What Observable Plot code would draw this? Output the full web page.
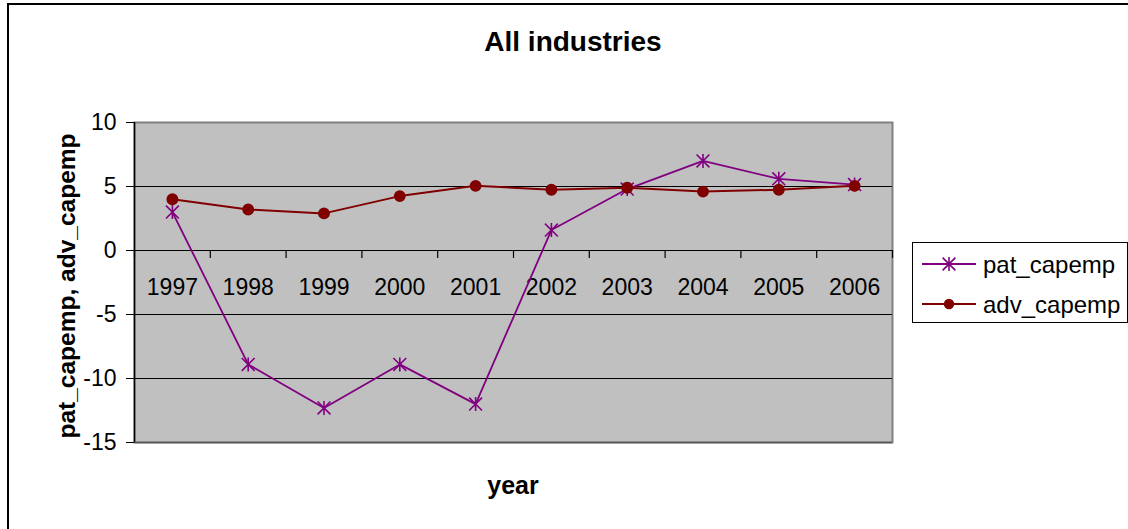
<!DOCTYPE html>
<html>
<head>
<meta charset="utf-8">
<script src="https://cdn.jsdelivr.net/npm/d3@7"></script>
<script src="https://cdn.jsdelivr.net/npm/@observablehq/plot@0.6"></script>
<style>
  html, body { margin: 0; padding: 0; background: #fff; }
  #wrap { position: relative; width: 1128px; height: 529px; overflow: hidden; font-family: "Liberation Sans", Arial, sans-serif; }
  #border { position: absolute; left: 7px; top: 3px; width: 2000px; height: 2000px; border-left: 2px solid #000; border-top: 2px solid #000; }
  #chart { position: absolute; left: 0; top: 0; }
  .t { position: absolute; font-weight: bold; color: #000; white-space: nowrap; }
  #title { left: 0; width: 1146px; top: 28px; text-align: center; font-size: 28px; line-height: 28px; }
  #xtitle { left: 0; width: 1026px; top: 473px; text-align: center; font-size: 25px; line-height: 25px; }
  #ytitle { left: 66px; top: 286px; font-size: 24.5px; line-height: 25px; transform: translate(-50%, -50%) rotate(-90deg); }
  #legend { position: absolute; left: 912px; top: 242px; width: 216px; height: 81px; box-sizing: border-box; border: 1px solid #000; background: #fff; }
</style>
</head>
<body>
<div id="wrap">
  <div id="border"></div>
  <div id="chart"></div>
  <div id="title" class="t">All industries</div>
  <div id="xtitle" class="t">year</div>
  <div id="ytitle" class="t">pat_capemp, adv_capemp</div>
  <div id="legend"></div>
</div>
<script>
const years = ["1997", "1998", "1999", "2000", "2001", "2002", "2003", "2004", "2005", "2006"];
const patCapemp = [3.0, -8.9, -12.3, -8.9, -12.0, 1.6, 4.8, 7.0, 5.6, 5.15];
const advCapemp = [4.0, 3.2, 2.9, 4.25, 5.05, 4.75, 4.9, 4.6, 4.75, 5.05];
const yTicks = [-15, -10, -5, 0, 5, 10];
const seriesNames = ["pat_capemp", "adv_capemp"];

const patColor = "#800080";
const advColor = "#800000";

const pat = years.map((y, i) => ({year: y, value: patCapemp[i]}));
const adv = years.map((y, i) => ({year: y, value: advCapemp[i]}));

// Excel-like star marker: X plus vertical bar
const star = {
  draw(context, size) {
    const r = Math.sqrt(size / Math.PI);
    const d = r * 0.92;
    context.moveTo(0, -r); context.lineTo(0, r);
    context.moveTo(-d, -d); context.lineTo(d, d);
    context.moveTo(-d, d); context.lineTo(d, -d);
  }
};

const W = 1128, H = 529, ML = 134, MR = 236, MT = 122, MB = 87;
const step = (W - ML - MR) / years.length;
const font = "Liberation Sans, Arial, sans-serif";

const chart = Plot.plot({
  width: W, height: H,
  marginLeft: ML, marginRight: MR, marginTop: MT, marginBottom: MB,
  style: {fontFamily: font, background: "transparent", overflow: "visible"},
  x: {type: "point", domain: years, padding: 0.5, round: false, axis: null},
  y: {domain: [-15, 10], axis: null},
  marks: [
    Plot.frame({fill: "#c0c0c0", stroke: "#808080", strokeWidth: 2}),
    Plot.ruleY(yTicks.filter(v => v > -15 && v < 10), {stroke: "#000", strokeWidth: 1}),
    Plot.ruleY([-15], {stroke: "#555", strokeWidth: 1.5}),
    // left axis line
    Plot.ruleX([years[0]], {y1: -15, y2: 10, dx: -step / 2, stroke: "#000", strokeWidth: 1.5}),
    // y ticks
    Plot.axisY({ticks: yTicks, tickSize: 8, tickPadding: 10, fontSize: 23, tickFormat: d => String(d), label: null, stroke: "#000"}),
    // category boundary ticks at y = 0
    Plot.ruleX(years, {x: d => d, y1: 0, y2: -0.62, dx: -step / 2, stroke: "#000", strokeWidth: 1.2}),
    Plot.ruleX([years[years.length - 1]], {y1: 0, y2: -0.62, dx: step / 2, stroke: "#000", strokeWidth: 1.2}),
    // x tick labels under the zero line
    Plot.text(years, {x: d => d, y: 0, dy: 37, text: d => d, fontSize: 23, fill: "#000", textAnchor: "middle", lineAnchor: "middle"}),
    // series
    Plot.line(pat, {x: "year", y: "value", stroke: patColor, strokeWidth: 1.8}),
    Plot.dot(pat, {x: "year", y: "value", symbol: star, r: 7, stroke: patColor, strokeWidth: 1.6, fill: "none"}),
    Plot.line(adv, {x: "year", y: "value", stroke: advColor, strokeWidth: 2}),
    Plot.dot(adv, {x: "year", y: "value", r: 5.2, fill: advColor, stroke: advColor})
  ]
});
document.getElementById("chart").appendChild(chart);

// Legend
const ns = "http://www.w3.org/2000/svg";
const lsvg = document.createElementNS(ns, "svg");
lsvg.setAttribute("width", 214); lsvg.setAttribute("height", 79);
lsvg.style.display = "block";
const legendItems = [
  {name: seriesNames[0], color: patColor, kind: "star", y: 21},
  {name: seriesNames[1], color: advColor, kind: "dot", y: 61}
];
for (const it of legendItems) {
  const line = document.createElementNS(ns, "line");
  line.setAttribute("x1", 9); line.setAttribute("x2", 63);
  line.setAttribute("y1", it.y); line.setAttribute("y2", it.y);
  line.setAttribute("stroke", it.color); line.setAttribute("stroke-width", 2);
  lsvg.appendChild(line);
  if (it.kind === "star") {
    const p = document.createElementNS(ns, "path");
    const cx = 36, cy = it.y, r = 7, d = 6.4;
    p.setAttribute("d", `M${cx},${cy - r}L${cx},${cy + r}M${cx - d},${cy - d}L${cx + d},${cy + d}M${cx - d},${cy + d}L${cx + d},${cy - d}`);
    p.setAttribute("stroke", it.color); p.setAttribute("stroke-width", 1.6); p.setAttribute("fill", "none");
    lsvg.appendChild(p);
  } else {
    const c = document.createElementNS(ns, "circle");
    c.setAttribute("cx", 36); c.setAttribute("cy", it.y); c.setAttribute("r", 5.2);
    c.setAttribute("fill", it.color);
    lsvg.appendChild(c);
  }
  const t = document.createElementNS(ns, "text");
  t.setAttribute("x", 70); t.setAttribute("y", it.y);
  t.setAttribute("dominant-baseline", "central");
  t.setAttribute("font-family", font); t.setAttribute("font-size", 24);
  t.textContent = it.name;
  lsvg.appendChild(t);
}
document.getElementById("legend").appendChild(lsvg);
</script>
</body>
</html>
